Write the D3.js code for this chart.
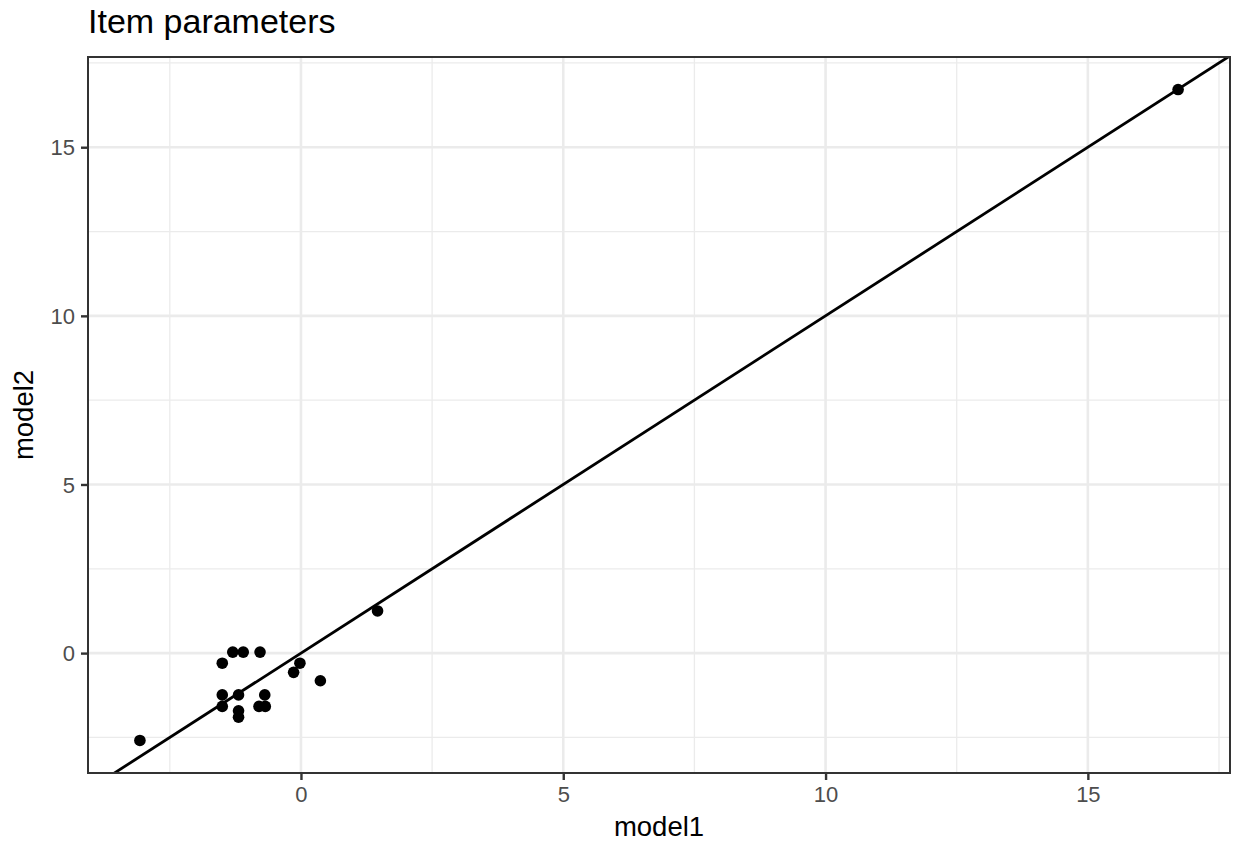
<!DOCTYPE html>
<html>
<head>
<meta charset="utf-8">
<script src="https://cdn.jsdelivr.net/npm/d3@7"></script>
<style>
  html, body { margin: 0; padding: 0; background: #fff; }
  svg { display: block; font-family: "Liberation Sans", Arial, sans-serif; }
</style>
</head>
<body>
<svg id="chart" width="1235" height="843"></svg>
<script>
// Item parameter estimates from the two models
const model1 = [-3.07, -1.50, -1.30, -1.10, -0.78, -1.50, -1.19, -0.69, -1.50, -1.19, -1.19, -0.80, -0.68, -0.14, -0.02, 0.37, 1.46, 16.72];
const model2 = [-2.59, -0.30, 0.03, 0.03, 0.03, -1.24, -1.24, -1.24, -1.58, -1.71, -1.90, -1.58, -1.58, -0.57, -0.30, -0.82, 1.25, 16.71];
const xTicks = [0, 5, 10, 15];
const yTicks = [0, 5, 10, 15];
const xMinor = [-2.5, 2.5, 7.5, 12.5, 17.5];
const yMinor = [-2.5, 2.5, 7.5, 12.5, 17.5];
const titleText = "Item parameters";
const xTitle = "model1";
const yTitle = "model2";

const points = model1.map((v, i) => ({ x: v, y: model2[i] }));

const panel = { left: 88, right: 1230, top: 57, bottom: 773 };

// continuous scales with 5% padding on each side
function expanded(vals) {
  const [lo, hi] = d3.extent(vals);
  const pad = (hi - lo) * 0.05;
  return [lo - pad, hi + pad];
}
const x = d3.scaleLinear().domain(expanded(model1)).range([panel.left, panel.right]);
const y = d3.scaleLinear().domain(expanded(model2)).range([panel.bottom, panel.top]);

const svg = d3.select("#chart");

// panel clip for the reference line
svg.append("defs").append("clipPath").attr("id", "panel-clip")
  .append("rect")
  .attr("x", panel.left).attr("y", panel.top)
  .attr("width", panel.right - panel.left).attr("height", panel.bottom - panel.top);

const grid = svg.append("g");
// minor grid
grid.selectAll("line.vminor").data(xMinor.filter(v => x(v) > panel.left && x(v) < panel.right)).join("line")
  .attr("x1", d => x(d)).attr("x2", d => x(d))
  .attr("y1", panel.top).attr("y2", panel.bottom)
  .attr("stroke", "#EBEBEB").attr("stroke-width", 1.3);
grid.selectAll("line.hminor").data(yMinor.filter(v => y(v) > panel.top && y(v) < panel.bottom)).join("line")
  .attr("y1", d => y(d)).attr("y2", d => y(d))
  .attr("x1", panel.left).attr("x2", panel.right)
  .attr("stroke", "#EBEBEB").attr("stroke-width", 1.3);
// major grid
grid.selectAll("line.vmajor").data(xTicks).join("line")
  .attr("x1", d => x(d)).attr("x2", d => x(d))
  .attr("y1", panel.top).attr("y2", panel.bottom)
  .attr("stroke", "#EBEBEB").attr("stroke-width", 2.6);
grid.selectAll("line.hmajor").data(yTicks).join("line")
  .attr("y1", d => y(d)).attr("y2", d => y(d))
  .attr("x1", panel.left).attr("x2", panel.right)
  .attr("stroke", "#EBEBEB").attr("stroke-width", 2.6);

// identity line y = x
const lo = Math.min(x.domain()[0], y.domain()[0]) - 1;
const hi = Math.max(x.domain()[1], y.domain()[1]) + 1;
svg.append("line")
  .attr("clip-path", "url(#panel-clip)")
  .attr("x1", x(lo)).attr("y1", y(lo))
  .attr("x2", x(hi)).attr("y2", y(hi))
  .attr("stroke", "#000").attr("stroke-width", 2.8);

// points
svg.append("g").selectAll("circle").data(points).join("circle")
  .attr("cx", d => x(d.x)).attr("cy", d => y(d.y))
  .attr("r", 5.8).attr("fill", "#000");

// panel border
svg.append("rect")
  .attr("x", panel.left).attr("y", panel.top)
  .attr("width", panel.right - panel.left).attr("height", panel.bottom - panel.top)
  .attr("fill", "none").attr("stroke", "#333333").attr("stroke-width", 2);

// axes
const xAxis = d3.axisBottom(x).tickValues(xTicks).tickSize(7).tickPadding(6).tickFormat(d3.format("d"));
const yAxis = d3.axisLeft(y).tickValues(yTicks).tickSize(7).tickPadding(6).tickFormat(d3.format("d"));

const gx = svg.append("g").attr("transform", `translate(0,${panel.bottom})`).call(xAxis);
const gy = svg.append("g").attr("transform", `translate(${panel.left},0)`).call(yAxis);
[gx, gy].forEach(g => {
  g.select(".domain").remove();
  g.selectAll(".tick line").attr("stroke", "#333333").attr("stroke-width", 2.4);
  g.selectAll(".tick text").attr("fill", "#4D4D4D").style("font-size", "22px")
    .style("font-family", "'Liberation Sans', Arial, sans-serif");
});
gx.selectAll(".tick text").attr("dy", "0.71em");
gy.selectAll(".tick text").attr("dy", "0.35em");

// titles
svg.append("text")
  .attr("x", panel.left).attr("y", 33)
  .style("font-size", "34px").attr("fill", "#000")
  .text(titleText);

svg.append("text")
  .attr("x", (panel.left + panel.right) / 2).attr("y", 836)
  .attr("text-anchor", "middle")
  .style("font-size", "27.5px").attr("fill", "#000")
  .text(xTitle);

svg.append("text")
  .attr("transform", `translate(33,${(panel.top + panel.bottom) / 2}) rotate(-90)`)
  .attr("text-anchor", "middle")
  .style("font-size", "27.5px").attr("fill", "#000")
  .text(yTitle);
</script>
</body>
</html>
